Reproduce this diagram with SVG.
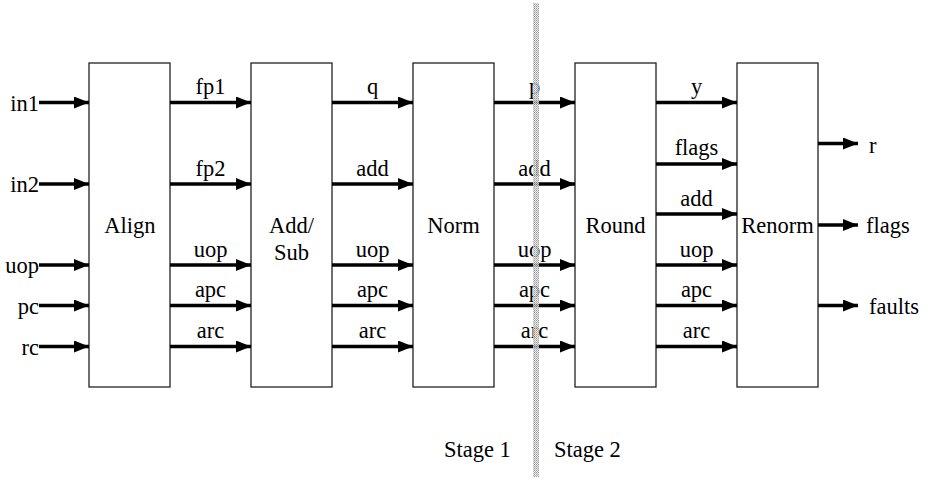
<svg xmlns="http://www.w3.org/2000/svg" width="928" height="481" viewBox="0 0 928 481">
<style>
  .box { fill: #fff; stroke: #222; stroke-width: 1.3; }
  text { font-family: 'Liberation Serif', 'Times New Roman', Times, serif; font-size: 22.5px; fill: #000; }
  .c { text-anchor: middle; }
  .e { text-anchor: end; }
  .w { stroke: #000; stroke-width: 3.5; fill: none; marker-end: url(#ah); }
</style>
<defs>
  <marker id="ah" markerUnits="userSpaceOnUse" markerWidth="16" markerHeight="13" refX="15" refY="6" orient="auto">
    <path d="M0,0 L15,6 L0,12 z" fill="#000"/>
  </marker>
  <pattern id="dots" width="2" height="2" patternUnits="userSpaceOnUse">
    <rect width="2" height="2" fill="#e4e4e4"/>
    <rect width="1" height="1" fill="#8a8a8a"/>
    <rect x="1" y="1" width="1" height="1" fill="#b0b0b0"/>
  </pattern>
</defs>
<rect width="928" height="481" fill="#fff"/>

<g id="align"><rect class="box" x="89" y="63" width="81" height="324"/><text class="c" x="130" y="233">Align</text></g>
<g id="addsub"><rect class="box" x="251" y="63" width="81" height="324"/><text class="c" x="291.5" y="233">Add/</text><text class="c" x="291.5" y="260">Sub</text></g>
<g id="norm"><rect class="box" x="413" y="63" width="81" height="324"/><text class="c" x="453.5" y="233">Norm</text></g>
<g id="round"><rect class="box" x="575" y="63" width="81" height="324"/><text class="c" x="615.5" y="233">Round</text></g>
<g id="renorm"><rect class="box" x="737" y="63" width="81" height="324"/><text class="c" x="777.5" y="233">Renorm</text></g>

<g id="connectors">
  <line class="w" x1="39" y1="102.5" x2="89" y2="102.5"/>
  <line class="w" x1="39" y1="184" x2="89" y2="184"/>
  <line class="w" x1="39" y1="265" x2="89" y2="265"/>
  <line class="w" x1="39" y1="305.5" x2="89" y2="305.5"/>
  <line class="w" x1="39" y1="346.5" x2="89" y2="346.5"/>

  <line class="w" x1="170" y1="102.5" x2="251" y2="102.5"/>
  <line class="w" x1="170" y1="184" x2="251" y2="184"/>
  <line class="w" x1="170" y1="265" x2="251" y2="265"/>
  <line class="w" x1="170" y1="305.5" x2="251" y2="305.5"/>
  <line class="w" x1="170" y1="346.5" x2="251" y2="346.5"/>

  <line class="w" x1="332" y1="102.5" x2="413" y2="102.5"/>
  <line class="w" x1="332" y1="184" x2="413" y2="184"/>
  <line class="w" x1="332" y1="265" x2="413" y2="265"/>
  <line class="w" x1="332" y1="305.5" x2="413" y2="305.5"/>
  <line class="w" x1="332" y1="346.5" x2="413" y2="346.5"/>

  <line class="w" x1="494" y1="102.5" x2="575" y2="102.5"/>
  <line class="w" x1="494" y1="184" x2="575" y2="184"/>
  <line class="w" x1="494" y1="265" x2="575" y2="265"/>
  <line class="w" x1="494" y1="305.5" x2="575" y2="305.5"/>
  <line class="w" x1="494" y1="346.5" x2="575" y2="346.5"/>

  <line class="w" x1="656" y1="102.5" x2="737" y2="102.5"/>
  <line class="w" x1="656" y1="164" x2="737" y2="164"/>
  <line class="w" x1="656" y1="214" x2="737" y2="214"/>
  <line class="w" x1="656" y1="265" x2="737" y2="265"/>
  <line class="w" x1="656" y1="305.5" x2="737" y2="305.5"/>
  <line class="w" x1="656" y1="346.5" x2="737" y2="346.5"/>

  <line class="w" x1="818" y1="143.5" x2="858" y2="143.5"/>
  <line class="w" x1="818" y1="225" x2="858" y2="225"/>
  <line class="w" x1="818" y1="305.5" x2="858" y2="305.5"/>
</g>

<g id="labels">
  <text class="e" x="39" y="111">in1</text>
  <text class="e" x="39" y="192">in2</text>
  <text class="e" x="39" y="273">uop</text>
  <text class="e" x="39" y="314">pc</text>
  <text class="e" x="39" y="355">rc</text>

  <text class="c" x="210.5" y="94">fp1</text>
  <text class="c" x="210.5" y="175.5">fp2</text>
  <text class="c" x="210.5" y="257">uop</text>
  <text class="c" x="210.5" y="297">apc</text>
  <text class="c" x="210.5" y="338">arc</text>

  <text class="c" x="372.5" y="94">q</text>
  <text class="c" x="372.5" y="175.5">add</text>
  <text class="c" x="372.5" y="257">uop</text>
  <text class="c" x="372.5" y="297">apc</text>
  <text class="c" x="372.5" y="338">arc</text>

  <text class="c" x="534.5" y="94">p</text>
  <text class="c" x="534.5" y="175.5">add</text>
  <text class="c" x="534.5" y="257">uop</text>
  <text class="c" x="534.5" y="297">apc</text>
  <text class="c" x="534.5" y="338">arc</text>

  <text class="c" x="696.5" y="94">y</text>
  <text class="c" x="696.5" y="155">flags</text>
  <text class="c" x="696.5" y="205.5">add</text>
  <text class="c" x="696.5" y="257">uop</text>
  <text class="c" x="696.5" y="297">apc</text>
  <text class="c" x="696.5" y="338">arc</text>

  <text x="869" y="153">r</text>
  <text x="866" y="233">flags</text>
  <text x="869" y="314">faults</text>

  <text x="444" y="457">Stage 1</text>
  <text x="554" y="457">Stage 2</text>
</g>

<g id="stage-divider">
  <rect x="533" y="3" width="6" height="474" fill="url(#dots)" opacity="0.85"/>
</g>
</svg>
